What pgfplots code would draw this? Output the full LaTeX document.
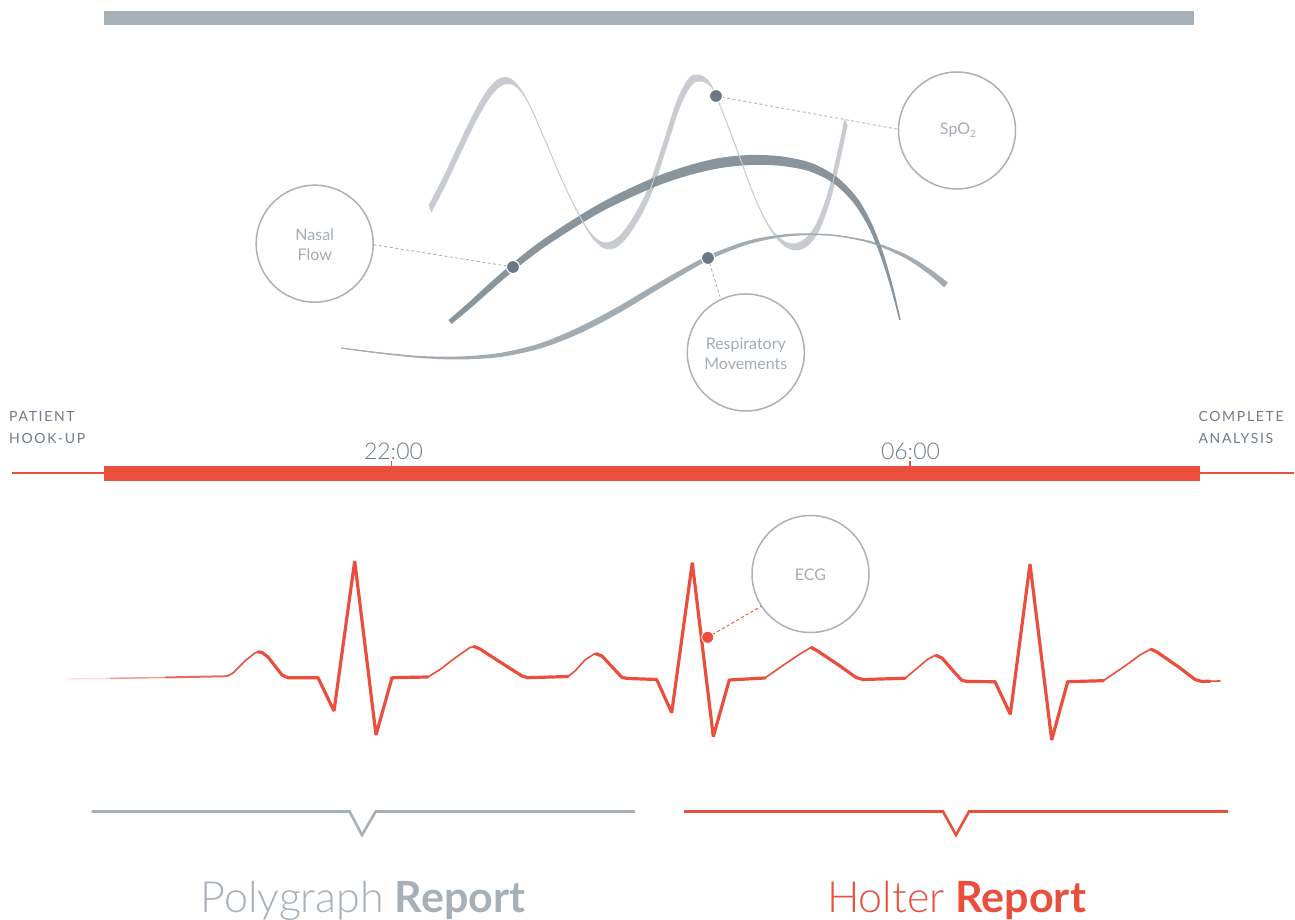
\documentclass[border=0pt]{standalone}
\usepackage{fontspec}
\usepackage{pgfplots}
\usepackage{pgfplotstable}
\pgfplotsset{compat=1.18}
\usepgfplotslibrary{fillbetween}
\setmainfont{Lato}
\newfontfamily\lightfont{Lato Light}
\newfontfamily\boldfont{Lato Bold}
\newfontfamily\trackfont[LetterSpace=12]{Lato}
\definecolor{barGray}{HTML}{A7AFB7}
\definecolor{ecgRed}{HTML}{E94F3C}
\definecolor{labelGray}{HTML}{6F7B87}
\definecolor{circGray}{HTML}{A9B1B9}
\definecolor{circText}{HTML}{A3ABB3}
\definecolor{waveLight}{HTML}{C8CCD1}
\definecolor{arcDark}{HTML}{7F8B95}
\definecolor{respGray}{HTML}{A3ABB3}
\definecolor{dotGray}{HTML}{6B7783}
\definecolor{dashGray}{HTML}{A0A8B0}

\pgfplotstableread{
x y
430 209
445 180
460 148
475 117
490 92
503 81
515 84
528 102
545 140
562 180
578 213
592 236
606 246
620 240
635 220
650 190
665 145
678 105
690 82
700 78
710 84
716 96
725 118
740 158
755 198
770 228
785 244
800 246
815 232
828 200
838 160
846 122
}\spo

\begin{document}
\begin{tikzpicture}
\begin{axis}[width=1295bp,height=920bp,scale only axis,
  xmin=0,xmax=1295,ymin=0,ymax=920,y dir=reverse,hide axis,clip=false,
  ecgthick/.style={ecgRed,line width=3.2bp,line join=bevel,line cap=round},
  ecgthin/.style={ecgRed,line width=1.6bp,line join=round,line cap=round}]

% top bar
\addplot[barGray,line width=14bp] coordinates {(104,18) (1194,18)};

% SpO2 wave ribbon
\addplot[name path=spA,draw=none,smooth,tension=0.6] table[x expr=\thisrow{x}-1.5,y expr=\thisrow{y}-3.5]{\spo};
\addplot[name path=spB,draw=none,smooth,tension=0.6] table[x expr=\thisrow{x}+1.5,y expr=\thisrow{y}+3.5]{\spo};
\addplot[fill=waveLight,draw=none] fill between[of=spA and spB];
\addplot[waveLight,line width=1bp,smooth,tension=0.6] table{\spo};

% Respiratory ribbon
\addplot[name path=reA,draw=none,smooth] coordinates {(341,347.5) (380,352.3) (420,356) (460,356.5) (499.7,353) (539.2,343.6) (578.7,327.3) (618.5,306.4) (658.6,282.6) (707.1,256) (749.6,240.3) (790,233.8) (830,234.3) (870.3,241) (905.8,254.4) (931.4,270) (947.9,282.7)};
\addplot[name path=reB,draw=none,smooth] coordinates {(341,348.5) (380,353.7) (420,358) (460,359.5) (500.3,357) (540.8,348.4) (581.3,332.7) (621.5,311.6) (661.4,287.4) (708.9,260) (750.4,243.7) (790,236.2) (830,235.7) (869.7,243) (904.2,257.6) (928.6,274) (944.1,287.3)};
\addplot[fill=respGray,draw=none] fill between[of=reA and reB];
\addplot[respGray,line width=0.9bp,smooth] coordinates {(341,348) (380,353) (420,357) (460,358) (500,355) (540,346) (580,330) (620,309) (660,285) (708,258) (750,242) (790,235) (830,235) (870,242) (905,256) (930,272) (946,285)};

% Nasal flow arc
\addplot[name path=arA,draw=none,smooth] coordinates {(448.4,320.1) (468.2,302.9) (488,284.8) (511,264.5) (538,243.2) (568,222.9) (598.1,204.5) (628.2,189.1) (658.4,175.8) (688.7,165.4) (719.2,158) (750,155) (780.6,156.3) (811.5,163) (837.1,177.2) (857.4,198.2) (872,224) (883.7,254.5) (893.2,287.7) (900.7,319.8)};
\addplot[name path=arB,draw=none,smooth] coordinates {(451.6,323.9) (471.8,307.1) (492,289.2) (515,269.5) (542,248.8) (572,229.1) (601.9,211.5) (631.8,196.9) (661.6,184.2) (691.3,174.6) (720.8,168) (750,165) (779.4,165.7) (808.5,171) (832.9,182.8) (852.6,201.8) (868,226) (880.3,255.5) (890.8,288.3) (899.3,320.2)};
\addplot[fill=arcDark,fill opacity=0.92,draw=none] fill between[of=arA and arB];

% dashed leaders
\addplot[dashGray,line width=0.8bp,dash pattern=on 3bp off 2.5bp] coordinates {(373.5,244.7) (513,267)};
\addplot[dashGray,line width=0.8bp,dash pattern=on 3bp off 2.5bp] coordinates {(716,96) (898.3,129.3)};
\addplot[dashGray,line width=0.8bp,dash pattern=on 3bp off 2.5bp] coordinates {(708,258) (720,296.7)};
\addplot[ecgRed,line width=0.9bp,dash pattern=on 3bp off 2.5bp] coordinates {(707.7,637.3) (761.7,606)};

% circles
\addplot[only marks,mark=o,mark size=58.5bp,mark options={draw=circGray,line width=1.5bp}] coordinates {(957,130.5) (314.7,243.7) (745.8,352.5) (810.5,574)};

% dots
\addplot[only marks,mark=*,mark size=6.5bp,mark options={fill=dotGray,draw=white,line width=1bp}] coordinates {(716,96) (513,267) (708,258)};
\addplot[only marks,mark=*,mark size=6bp,mark options={fill=ecgRed,draw=white,line width=0.8bp}] coordinates {(707.7,637.3)};

% circle labels
\node[anchor=base,text=circText,font=\fontsize{16bp}{16bp}\selectfont] at (axis cs:314.7,240.3) {Nasal};
\node[anchor=base,text=circText,font=\fontsize{16bp}{16bp}\selectfont] at (axis cs:314.7,261) {Flow};
\node[anchor=base,text=circText,font=\fontsize{16bp}{16bp}\selectfont] at (axis cs:745.8,349.3) {Respiratory};
\node[anchor=base,text=circText,font=\fontsize{16bp}{16bp}\selectfont] at (axis cs:745.8,370) {Movements};
\node[anchor=base,text=circText,font=\fontsize{16bp}{16bp}\selectfont] at (axis cs:958,135) {SpO\raisebox{-0.35ex}{\fontsize{10bp}{10bp}\selectfont 2}};
\node[anchor=base,text=circText,font=\fontsize{16bp}{16bp}\selectfont] at (axis cs:810.5,580.3) {ECG};

% timeline
\addplot[ecgRed,line width=2bp] coordinates {(12,473.3) (1294,473.3)};
\addplot[ecgRed,line width=15bp] coordinates {(104,473.5) (1200,473.5)};
\addplot[ecgRed,line width=1.5bp] coordinates {(391.5,461) (391.5,467)};
\addplot[ecgRed,line width=1.5bp] coordinates {(910,461) (910,467)};
\node[anchor=base,text=labelGray,font=\fontsize{23bp}{23bp}\selectfont\lightfont] at (axis cs:393.5,459.5) {22:00};
\node[anchor=base,text=labelGray,font=\fontsize{23bp}{23bp}\selectfont\lightfont] at (axis cs:910.5,459.5) {06:00};
\node[anchor=base west,inner sep=0pt,text=labelGray,font=\fontsize{14bp}{14bp}\selectfont\trackfont] at (axis cs:9,421.7) {PATIENT};
\node[anchor=base west,inner sep=0pt,text=labelGray,font=\fontsize{14bp}{14bp}\selectfont\trackfont] at (axis cs:9,443.5) {HOOK-UP};
\node[anchor=base west,inner sep=0pt,text=labelGray,font=\fontsize{14bp}{14bp}\selectfont\trackfont] at (axis cs:1198.3,422) {COMPLETE};
\node[anchor=base west,inner sep=0pt,text=labelGray,font=\fontsize{14bp}{14bp}\selectfont\trackfont] at (axis cs:1198.3,444) {ANALYSIS};

% ECG
\addplot[ecgRed,opacity=0.25,line width=1bp] coordinates {(68,679) (110,678.4)};
\addplot[ecgRed,opacity=0.55,line width=1.5bp] coordinates {(110,678.4) (165,677.5)};
\addplot[ecgRed,opacity=0.85,line width=2bp] coordinates {(165,677.5) (227,676.2)};
\addplot[ecgthin] coordinates {(227,676.2) (233,673) (245,661) (255,653) (260,651.8)};
\addplot[ecgthick] coordinates {(258,651.8) (262,652.5) (268,657) (282,675) (288,677.7) (318,677.7) (334,711) (354.7,561) (376,735) (392,677.7) (428,677)};
\addplot[ecgthin] coordinates {(428,677) (440,669.5) (455,658) (470,647.5) (476,646.5)};
\addplot[ecgthick] coordinates {(474,646.5) (480,649) (500,662) (522,676) (528,677.7) (568,676.5)};
\addplot[ecgthin] coordinates {(568,676.5) (575,671) (585,660) (594,654) (598,653.5)};
\addplot[ecgthick] coordinates {(596,653.8) (602,656) (615,670) (622,677.5) (628,678.5) (656.7,679.5) (671.7,712.7) (692.3,562.7) (713.3,736.7) (729.3,680) (765,678)};
\addplot[ecgthin] coordinates {(765,678) (785,664) (800,654) (810,648) (813,647.5)};
\addplot[ecgthick] coordinates {(811,647.5) (816,650) (840,666) (856,677.5) (863,679.5) (905,678.3)};
\addplot[ecgthin] coordinates {(905,678.3) (915,670) (928,659) (935,655.5) (938,655.5)};
\addplot[ecgthick] coordinates {(936,655.5) (942,658) (955,673) (962,680.5) (968,681.5) (995,681.7) (1010.3,714.3) (1030,564) (1051.7,740) (1067.7,681.7) (1103.3,680.7)};
\addplot[ecgthin] coordinates {(1103.3,680.7) (1125,666) (1140,655) (1150,649.5) (1153,649.3)};
\addplot[ecgthick] coordinates {(1151,649.3) (1157,652) (1180,668) (1195,679.5) (1202,681.5) (1210,681.2)};
\addplot[ecgthin] coordinates {(1210,681.2) (1220,681)};

% brackets
\addplot[barGray,line width=2.6bp,line join=miter] coordinates {(91.5,811.5) (349.6,811.5) (362,835) (375.7,811.5) (635,811.5)};
\addplot[ecgRed,line width=2.6bp,line join=miter] coordinates {(684,811.5) (943,811.5) (956,835) (969,811.5) (1228,811.5)};

% bottom titles
\node[anchor=base,inner sep=0pt,text=barGray,font=\fontsize{43bp}{43bp}\selectfont] at (axis cs:363,913) {{\lightfont Polygraph} {\boldfont Report}};
\node[anchor=base,inner sep=0pt,text=ecgRed,font=\fontsize{43bp}{43bp}\selectfont] at (axis cs:956.5,913) {{\lightfont Holter} {\boldfont Report}};
\end{axis}
\pgfresetboundingbox
\path (current axis.south west) rectangle (current axis.north east);
\end{tikzpicture}
\end{document}
